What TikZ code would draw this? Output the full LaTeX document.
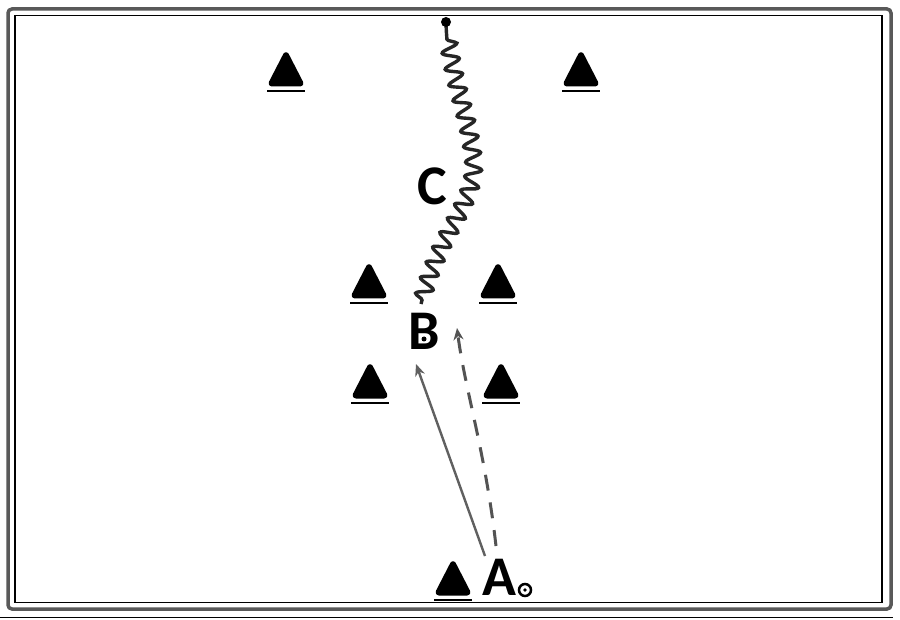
\documentclass[tikz,border=0pt]{standalone}
\usepackage{fontspec}
\setmainfont{Carlito}
\usetikzlibrary{decorations.pathmorphing,arrows.meta}
\begin{document}
\begin{tikzpicture}[x=1pt,y=-1pt,
  cone/.style={fill=black,draw=black,line width=3pt,line join=round,rounded corners=3pt},
  lbl/.style={font=\fontsize{56}{56}\selectfont\bfseries,inner sep=0pt},
  drib/.style={black!85,line width=3.4pt,decorate,decoration={snake,amplitude=8pt,segment length=16pt,pre length=4pt,post length=8pt}},
  pass/.style={gray!75!black,line width=2.4pt,-{Stealth[length=12pt,width=10pt]}},
  run/.style={gray!65!black,line width=3pt,dash pattern=on 16pt off 12pt,-{Stealth[length=12pt,width=10pt]}}]
\useasboundingbox (0,0) rectangle (900,620);
\fill[white] (0,0) rectangle (900,620);
% borders
\draw[gray!70!black,line width=3.5pt,rounded corners=4pt] (8,9) rectangle (891,609);
\draw[black,line width=1.6pt] (15,15.5) rectangle (882,602.5);
\draw[black,line width=1pt] (0,617) -- (893,617);
% cones
\foreach \n/\x/\y in {c1/286/85,c2/581/85,c3/369/297,c4/498/297,c5/370/397,c6/501/397,c7/453/594}{
  \draw[cone] (\x-17,\y) -- (\x+17,\y) -- (\x,\y-33) -- cycle;
  \coordinate (\n) at (\x,\y);
  \draw[black,line width=1.8pt] (\x-19,\y+6) -- (\x+19,\y+6);
}
% labels
\node[lbl] (C) at (432,186) {C};
\node[lbl] (B) at (424,331) {B};
\fill[black] (424,339) circle (2.5pt);
\node[lbl] (A) at (499,577) {A};
\node[draw=black,line width=2.5pt,circle,minimum size=12pt,inner sep=0pt] (ball) at (525,590) {};
\fill[black] (ball) circle (1.8pt);
% coordinates
\coordinate (bstart) at (421,304);
\coordinate (ctop) at (446,24);
\coordinate (pfrom) at (485,556);
\coordinate (pto) at (416,364);
\coordinate (rfrom) at (496,546);
\coordinate (rto) at (457,328);
% dribble
\draw[drib] (bstart) .. controls (440,230) and (478,205) .. (472,160) .. controls (466,110) and (448,80) .. (ctop);
\fill[black] (ctop) ++(0,-2) circle (5pt);
% pass
\draw[pass] (pfrom) -- (pto);
% run
\draw[run] (rfrom) .. controls (485,450) and (465,390) .. (rto);
\end{tikzpicture}
\end{document}
